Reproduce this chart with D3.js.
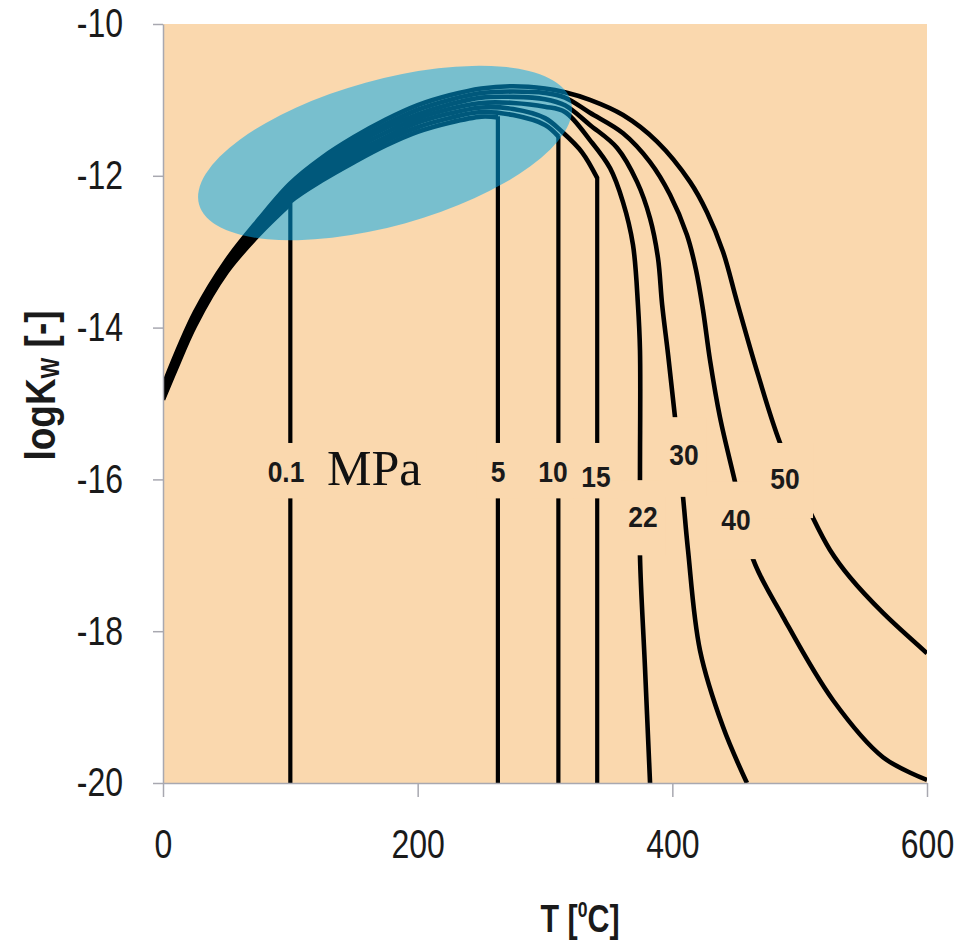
<!DOCTYPE html>
<html>
<head>
<meta charset="utf-8">
<script src="https://cdn.jsdelivr.net/npm/d3@7"></script>
<style>
  body { margin: 0; background: #fff; }
  svg { display: block; }
</style>
</head>
<body>
<div id="chart"></div>
<script>
(function() {
  // axis ticks
  const tempTicks = [0, 200, 400, 600];
  const logTicks = [-10, -12, -14, -16, -18, -20];

  // pressure curves: T [degC] and logKw
  const p01T = [0, 10, 25, 50, 75, 100];
  const p01K = [-14.95, -14.55, -13.98, -13.27, -12.78, -12.37];

  const p5T = [0, 25, 50, 75, 100, 125, 150, 175, 200, 225, 250, 263];
  const p5K = [-14.93, -13.96, -13.25, -12.75, -12.34, -12.06, -11.82, -11.60, -11.42, -11.30, -11.22, -11.23];

  const p10T = [0, 25, 50, 75, 100, 125, 150, 175, 200, 225, 250, 275, 300, 310.5];
  const p10K = [-14.91, -13.94, -13.23, -12.72, -12.30, -12.01, -11.765, -11.54, -11.36, -11.24, -11.16, -11.20, -11.33, -11.48];

  const p15T = [0, 25, 50, 75, 100, 125, 150, 175, 200, 225, 250, 275, 300, 313.4, 329.1, 341];
  const p15K = [-14.89, -13.92, -13.21, -12.70, -12.26, -11.96, -11.71, -11.49, -11.30, -11.18, -11.10, -11.12, -11.24, -11.42, -11.69, -12.03];

  const p22T = [0, 25, 50, 75, 100, 125, 150, 175, 200, 225, 250, 275, 300, 315.7, 335.3, 351.1, 361.3, 369.1, 373.0, 374.6, 374.6, 374.6, 378.5, 382.5];
  const p22K = [-14.86, -13.89, -13.19, -12.68, -12.22, -11.91, -11.655, -11.43, -11.245, -11.12, -11.04, -11.04, -11.09, -11.16, -11.53, -11.90, -12.35, -12.91, -13.70, -14.30, -15.88, -17.01, -18.47, -20];

  const p30T = [0, 25, 50, 75, 100, 125, 150, 175, 200, 225, 250, 275, 300, 315.7, 335.3, 356.5, 372.3, 382.5, 388.7, 392.0, 396.7, 402.1, 408.4, 412.3, 421.7, 439.8, 458.6];
  const p30K = [-14.83, -13.86, -13.17, -12.65, -12.18, -11.86, -11.60, -11.37, -11.19, -11.06, -10.97, -10.96, -10.99, -11.07, -11.33, -11.63, -12.08, -12.56, -13.08, -13.70, -14.36, -15.18, -16.23, -16.93, -18.25, -19.26, -20];

  const p40T = [0, 25, 50, 75, 100, 125, 150, 175, 200, 225, 250, 275, 300, 315.7, 335.3, 361.3, 382.5, 398.2, 411.5, 418.6, 424.1, 429.6, 437.4, 449.2, 463.4, 486.9, 526.2, 565.4, 600];
  const p40K = [-14.80, -13.83, -13.14, -12.61, -12.14, -11.81, -11.545, -11.32, -11.13, -11.00, -10.91, -10.89, -10.91, -10.97, -11.17, -11.44, -11.82, -12.25, -12.78, -13.24, -13.77, -14.43, -15.18, -16.03, -17.05, -17.81, -18.91, -19.66, -19.96];

  const p50T = [0, 25, 50, 75, 100, 125, 150, 175, 200, 225, 250, 275, 300, 315.7, 335.3, 361.3, 388.0, 413.9, 427.2, 439.8, 450.8, 467.3, 484.6, 510.5, 523.8, 539.5, 565.5, 600];
  const p50K = [-14.77, -13.80, -13.11, -12.58, -12.10, -11.76, -11.49, -11.26, -11.07, -10.94, -10.85, -10.82, -10.85, -10.90, -11.00, -11.20, -11.55, -12.08, -12.48, -13.00, -13.66, -14.62, -15.52, -16.51, -16.93, -17.29, -17.76, -18.29];

  // curves that end at boiling and drop straight to the bottom
  const boilingDrop = [true, true, true, true, false, false, false, false];

  // pressure labels (MPa) and where they sit
  const labelText = ["0.1", "5", "10", "15", "22", "30", "40", "50"];
  const labelT = [96.6, 263.1, 306.3, 340.0, 377.0, 409.2, 450.0, 488.5];
  const labelK = [-15.89, -15.89, -15.89, -15.96, -16.48, -15.67, -16.52, -15.99];
  const gapTop = [-15.52, -15.52, -15.52, -15.52, -16.01, -15.18, -16.03, -15.52];
  const gapBottom = [-16.25, -16.25, -16.25, -16.25, -17.00, -16.23, -17.05, -16.51];

  const curves = [
    [p01T, p01K], [p5T, p5K], [p10T, p10K], [p15T, p15K],
    [p22T, p22K], [p30T, p30K], [p40T, p40K], [p50T, p50K]
  ].map(function(c, i) {
    return { pts: c[0].map(function(t, j) { return { t: t, k: c[1][j] }; }), drop: boilingDrop[i] };
  });

  const width = 973, height = 942;
  const plotBg = "#fad8ae";
  const sans = "'Liberation Sans', Arial, sans-serif";
  const squeeze = 0.8;   // the original font is a narrow one

  const svg = d3.select("#chart").append("svg")
      .attr("width", width)
      .attr("height", height);

  const x = d3.scaleLinear().domain([0, 600]).range([163, 927]);
  const y = d3.scaleLinear().domain([-10, -20]).range([24, 783]);

  // plot background
  svg.append("rect")
      .attr("x", x(0)).attr("y", y(-10))
      .attr("width", x(600) - x(0)).attr("height", y(-20) - y(-10))
      .attr("fill", plotBg);

  svg.append("clipPath").attr("id", "plotclip")
    .append("rect")
      .attr("x", x(0)).attr("y", y(-10))
      .attr("width", x(600) - x(0)).attr("height", y(-20) - y(-10));

  const g = svg.append("g").attr("clip-path", "url(#plotclip)");

  const line = d3.line()
      .x(function(d) { return x(d.t); })
      .y(function(d) { return y(d.k); })
      .curve(d3.curveCatmullRom.alpha(0.5));

  curves.forEach(function(c) {
    g.append("path")
        .datum(c.pts)
        .attr("fill", "none")
        .attr("stroke", "#000")
        .attr("stroke-width", 4.6)
        .attr("stroke-linejoin", "round")
        .attr("d", line);
    if (c.drop) {
      const last = c.pts[c.pts.length - 1];
      g.append("line")
          .attr("x1", x(last.t)).attr("x2", x(last.t))
          .attr("y1", y(last.k) - 1).attr("y2", y(-20))
          .attr("stroke", "#000")
          .attr("stroke-width", 4.2);
    }
  });

  // breaks in the lines where the labels sit
  labelText.forEach(function(txt, i) {
    const w = (i >= 6) ? 56 : 44;
    g.append("rect")
        .attr("x", x(labelT[i]) - w / 2)
        .attr("y", y(gapTop[i]))
        .attr("width", w)
        .attr("height", y(gapBottom[i]) - y(gapTop[i]))
        .attr("fill", plotBg);
  });

  labelText.forEach(function(txt, i) {
    svg.append("text")
        .attr("transform", "translate(" + x(labelT[i]) + "," + y(labelK[i]) + ") scale(0.88,1)")
        .attr("dy", "0.36em")
        .attr("text-anchor", "middle")
        .attr("font-family", sans)
        .attr("font-weight", "bold")
        .attr("font-size", 30)
        .attr("fill", "#1a1a1a")
        .text(txt);
  });

  svg.append("text")
      .attr("x", x(128.8))
      .attr("y", y(-16.07))
      .attr("font-family", "'Liberation Serif', 'Times New Roman', serif")
      .attr("font-size", 50)
      .attr("fill", "#111")
      .text("MPa");

  // highlighted region
  svg.append("ellipse")
      .attr("cx", x(174.4))
      .attr("cy", y(-11.70))
      .attr("rx", 193)
      .attr("ry", 73)
      .attr("transform", "rotate(-15.5," + x(174.4) + "," + y(-11.70) + ")")
      .attr("fill", "rgb(0,169,235)")
      .attr("fill-opacity", 0.52);

  // axes
  const axisColor = "#a8a8b0";

  const yAxis = svg.append("g")
      .attr("transform", "translate(" + x(0) + ",0)")
      .call(d3.axisLeft(y).tickValues(logTicks).tickSize(10).tickSizeOuter(0).tickPadding(30));

  const xAxis = svg.append("g")
      .attr("transform", "translate(0," + y(-20) + ")")
      .call(d3.axisBottom(x).tickValues(tempTicks).tickSize(14).tickSizeOuter(0).tickPadding(36));

  [yAxis, xAxis].forEach(function(a) {
    a.select(".domain").attr("stroke", axisColor).attr("stroke-width", 1.5);
    a.selectAll(".tick line").attr("stroke", axisColor).attr("stroke-width", 1.5);
    a.selectAll(".tick text")
        .attr("font-family", sans)
        .attr("font-size", 40)
        .attr("fill", "#1a1a1a");
  });
  yAxis.selectAll(".tick text")
      .text(function(d) { return d; })
      .attr("x", 0)
      .attr("transform", "translate(-40,0) scale(" + squeeze + ",1)");
  xAxis.selectAll(".tick text")
      .attr("y", 0)
      .attr("transform", "translate(0,47) scale(" + squeeze + ",1)");

  // axis titles
  const yTitle = svg.append("text")
      .attr("transform", "translate(55," + ((y(-10) + y(-20)) / 2 - 18) + ") rotate(-90) scale(0.88,1)")
      .attr("text-anchor", "middle")
      .attr("font-family", sans)
      .attr("font-weight", "bold")
      .attr("font-size", 42)
      .attr("fill", "#1a1a1a");
  yTitle.append("tspan").text("logK");
  yTitle.append("tspan").attr("font-size", 25).attr("dy", 4).text("W");
  yTitle.append("tspan").attr("dy", -4).text(" [-]");

  const xTitle = svg.append("text")
      .attr("transform", "translate(580,932) scale(" + squeeze + ",1)")
      .attr("text-anchor", "middle")
      .attr("font-family", sans)
      .attr("font-weight", "bold")
      .attr("font-size", 38)
      .attr("fill", "#1a1a1a");
  xTitle.append("tspan").text("T [");
  xTitle.append("tspan").attr("font-size", 22).attr("dy", -15).text("0");
  xTitle.append("tspan").attr("dy", 15).text("C]");
})();
</script>
</body>
</html>
